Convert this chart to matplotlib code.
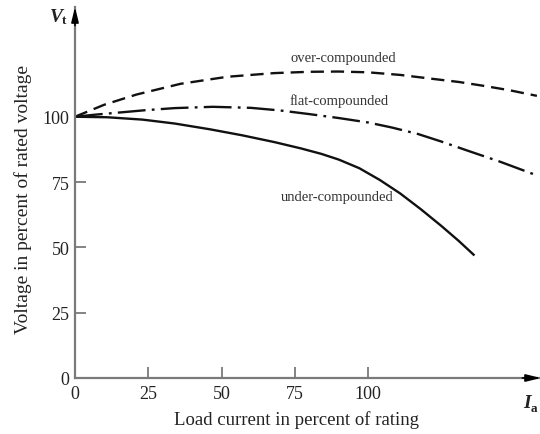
import matplotlib
matplotlib.use("Agg")
import matplotlib.pyplot as plt

plt.rcParams["font.family"] = ["Liberation Serif", "DejaVu Serif"]
plt.rcParams["lines.scale_dashes"] = False

# Terminal voltage (percent of rated) versus load current (percent of rating)
over_x = [0, 10, 21, 36, 52, 68, 80, 90, 100, 111, 122, 131, 139, 148, 157.6]
over_y = [100, 104.6, 108.5, 112.6, 115.3, 116.7, 117.2, 117.3, 117.0, 116.0,
          114.5, 113.3, 111.9, 110.2, 108.0]

flat_x = [0, 7, 14, 24, 34, 47, 60, 70, 80, 90, 100, 108, 117, 125, 134, 145, 156.5]
flat_y = [100, 100.8, 101.5, 102.5, 103.3, 103.8, 103.4, 102.4, 101.0, 99.5,
          97.8, 95.9, 93.4, 90.5, 87.0, 82.8, 78.0]

under_x = [0, 11, 23, 34, 46, 57, 68, 77, 84, 90, 97, 104, 111, 118, 125, 131, 136]
under_y = [100, 99.8, 98.9, 97.4, 95.2, 92.9, 90.3, 87.9, 85.8, 83.6, 80.3,
           75.8, 70.6, 64.6, 58.2, 52.4, 47.2]

x_ticks = [25, 50, 75, 100]
y_ticks = [25, 50, 75, 100]

W, H = 540, 435
fig = plt.figure(figsize=(W / 100, H / 100), dpi=100)
ax = fig.add_axes([75 / W, (H - 379) / H, 466 / W, 371 / H])
ax.set_xlim(0, 159)
ax.set_ylim(0, 142)

ink = "#111111"
ax.plot(over_x, over_y, color=ink, lw=1.7, dashes=(9.5, 5.0))
ax.plot(flat_x, flat_y, color=ink, lw=1.7, dashes=(20, 4.5, 2, 4.5))
ax.plot(under_x, under_y, color=ink, lw=1.7)

lab_kw = dict(fontsize=10.5, color="#333333", ha="center", va="center")
ax.text(91.4, 122.7, "over-compounded", **lab_kw)
ax.text(90.1, 106.5, "flat-compounded", **lab_kw)
ax.text(89.6, 69.3, "under-compounded", **lab_kw)

# axes drawn as gray lines with arrowheads
for side in ("top", "right"):
    ax.spines[side].set_visible(False)
for side in ("left", "bottom"):
    ax.spines[side].set_color("#7a7a7a")
    ax.spines[side].set_linewidth(1.6)
ax.annotate("", xy=(1.0, 0), xytext=(0.96, 0), xycoords="axes fraction",
            arrowprops=dict(arrowstyle="-|>,head_length=0.9,head_width=0.22",
                            color="black", lw=1.2, shrinkA=0, shrinkB=0))
ax.annotate("", xy=(0, 1.0), xytext=(0, 0.95), xycoords="axes fraction",
            arrowprops=dict(arrowstyle="-|>,head_length=0.9,head_width=0.22",
                            color="black", lw=1.2, shrinkA=0, shrinkB=0))

ax.set_xticks([0] + x_ticks)
ax.set_yticks([0] + y_ticks)
ax.set_xticklabels(["0"] + [str(v) for v in x_ticks])
ax.set_yticklabels(["0"] + [str(v) for v in y_ticks])
ax.tick_params(direction="in", length=8, width=1.3, color="#7a7a7a",
               labelsize=13, labelcolor="#222222")
ax.tick_params(axis="x", pad=5)
ax.tick_params(axis="y", pad=4)

fig.text(296 / W, 1 - 420 / H, "Load current in percent of rating",
         fontsize=13.5, color="#222222", ha="center", va="center")
fig.text(23 / W, 1 - 200 / H, "Voltage in percent of rated voltage",
         fontsize=14, color="#222222", ha="center", va="center", rotation=90)

sym_kw = dict(fontweight="bold", fontstyle="italic", color="#222222",
              ha="center", va="center")
fig.text(56 / W, 1 - 17 / H, "V", fontsize=14, **sym_kw)
fig.text(63.5 / W, 1 - 21 / H, "t", fontsize=9.5, fontweight="bold",
         color="#222222", ha="center", va="center")
fig.text(527 / W, 1 - 404 / H, "I", fontsize=14, **sym_kw)
fig.text(534 / W, 1 - 409 / H, "a", fontsize=9.5, fontweight="bold",
         color="#222222", ha="center", va="center")

fig.savefig("out.png", dpi=100, facecolor="white")
